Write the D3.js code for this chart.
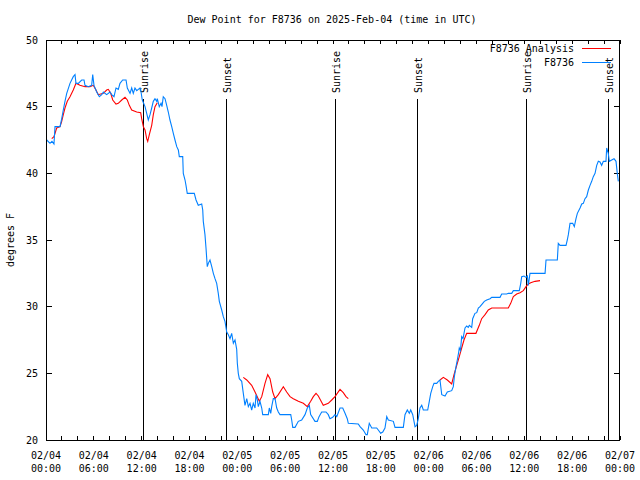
<!DOCTYPE html>
<html>
<head>
<meta charset="utf-8">
<script src="https://cdn.jsdelivr.net/npm/d3@7"></script>
<style>
  body { margin: 0; background: #fff; }
  text { font-family: "DejaVu Sans Mono", monospace; font-size: 10px; fill: #000; }
</style>
</head>
<body>
<svg></svg>
<script>
// hours after 2025-02-04 00:00 UTC
const obsHours = [0.09, 0.50, 0.75, 1.00, 1.13, 1.76, 1.97, 2.17, 2.38, 2.60, 3.01, 3.42, 3.64, 3.76, 4.05, 4.48, 4.77, 4.89, 5.31, 5.73,
  5.86, 6.02, 6.36, 6.69, 6.99, 7.19, 7.61, 8.03, 8.24, 8.53, 8.78, 9.07, 9.28, 9.62, 10.04, 10.20, 10.54, 10.75, 10.95, 11.16,
  11.38, 11.58, 11.79, 11.92, 12.08, 12.42, 12.63, 12.83, 13.05, 13.26, 13.46, 13.67, 13.89, 13.96, 14.21, 14.43, 14.55, 14.71, 14.93, 15.14,
  15.34, 15.55, 15.77, 15.97, 16.18, 16.40, 16.60, 16.72, 17.15, 17.22, 17.44, 17.56, 17.72, 18.60, 18.82, 19.10, 19.53, 19.66, 19.73, 19.94,
  20.07, 20.23, 20.36, 20.57, 20.79, 20.99, 21.20, 21.41, 21.61, 21.74, 22.04, 22.24, 22.45, 22.67, 22.87, 23.08, 23.29, 23.50, 23.71, 23.92,
  24.00, 24.12, 24.25, 24.55, 24.75, 24.96, 25.18, 25.38, 25.59, 25.80, 26.00, 26.22, 26.34, 26.51, 26.63, 26.84, 27.06, 27.18, 27.89, 28.01,
  28.19, 28.31, 28.51, 28.73, 28.94, 29.14, 29.35, 30.70, 30.82, 30.95, 31.24, 31.65, 32.07, 32.49, 32.78, 33.03, 33.20, 33.74, 34.03, 34.25,
  34.58, 35.12, 35.41, 35.62, 35.96, 36.25, 36.47, 36.88, 37.22, 37.51, 37.79, 37.92, 39.17, 39.39, 39.80, 40.14, 40.30, 40.55, 40.86, 41.48,
  41.68, 41.98, 42.24, 42.52, 42.74, 42.94, 43.57, 43.78, 44.82, 45.03, 45.32, 45.57, 45.75, 46.00, 46.29, 46.50, 46.70, 46.91, 47.13, 47.33,
  47.88, 48.08, 48.26, 48.51, 48.67, 49.01, 49.21, 49.42, 49.64, 50.05, 50.34, 50.89, 51.09, 51.22, 51.43, 51.59, 51.77, 51.84, 51.99, 52.14,
  52.31, 52.56, 52.77, 52.97, 53.10, 53.40, 53.52, 53.81, 54.03, 54.23, 54.44, 54.78, 54.98, 55.28, 55.70, 55.91, 56.95, 57.16, 57.79, 57.99,
  58.42, 58.62, 59.37, 59.55, 59.67, 59.96, 60.21, 60.38, 60.50, 60.71, 62.60, 62.72, 64.14, 64.26, 64.48, 65.23, 65.39, 65.52, 65.73, 66.07,
  66.27, 66.48, 66.65, 66.99, 67.20, 67.40, 67.61, 67.82, 68.03, 68.24, 68.45, 68.65, 68.87, 69.08, 69.28, 69.49, 69.70, 69.91, 70.24, 70.33,
  70.53, 70.66, 70.96, 71.25, 71.50, 71.66, 71.79];
const obsDew = [42.5, 42.25, 42.4, 42.2, 43.5, 43.5, 44.1, 44.75, 45.4, 46, 46.75, 47.25, 47.4, 46.75, 46.75, 47, 47, 46.6, 46.5, 46.6,
  47.4, 46.6, 46.1, 45.75, 45.9, 46.1, 45.9, 46.1, 45.9, 45.75, 46.4, 46.3, 46.75, 47, 47, 46.4, 46, 46.4, 46, 46.4,
  46.2, 46.3, 46.4, 46.1, 45.5, 45, 44.5, 44, 44.4, 44.9, 45.4, 45.6, 45.4, 45.6, 45, 45.25, 45, 45.75, 45.6, 45.1,
  44.6, 44, 43.5, 43, 42.5, 42, 41.75, 41.25, 41.25, 40, 39.5, 39.1, 38.5, 38.5, 38, 37.6, 37.7, 37.25, 36.4, 35.4,
  34.4, 33, 33.25, 33.5, 33, 32.5, 32.1, 31.75, 31, 30.4, 29.75, 29.25, 28.9, 28.1, 27.9, 27.6, 28, 27.25, 27.5, 26.8,
  25.75, 25, 24.6, 24.4, 23.5, 22.6, 23.1, 22.5, 22.75, 22.25, 22.75, 22.4, 23.4, 23, 22.5, 22.9, 22.4, 21.9, 21.9, 22.4,
  22, 22.5, 23.1, 23.1, 22.4, 22.1, 21.9, 21.9, 21.5, 20.95, 20.95, 21.4, 21.5, 21.9, 22.4, 22.6, 21.9, 21.4, 21.4, 21.75,
  22.1, 22.1, 21.9, 21.6, 21.7, 21.9, 21.75, 22.4, 22.4, 22, 21.6, 21.25, 21.2, 21, 20.75, 20.4, 20.4, 21.25, 20.9, 20.9,
  20.75, 20.5, 20.6, 20.9, 21.75, 21.5, 21.4, 20.95, 20.95, 21.9, 22.25, 22, 22.25, 21.9, 21, 21.1, 21.6, 22.4, 22.6, 22.25,
  22.25, 22.9, 23.5, 24, 24.25, 24.25, 24.4, 24.5, 23.4, 23.3, 23.6, 23.7, 24, 24.75, 25.5, 26, 26.6, 26.9, 26.7, 27.75,
  27.6, 28.4, 28.55, 28.45, 28.6, 28.45, 29.1, 29.5, 29.55, 29.9, 30, 30.25, 30.4, 30.5, 30.6, 30.7, 30.7, 30.95, 30.95, 31,
  31, 31.2, 31.2, 31.75, 32.25, 32.3, 32.2, 32.3, 31.6, 32.5, 32.5, 33.5, 33.5, 34.75, 34.6, 34.6, 35, 35.4, 36.25, 36.25,
  36, 36.6, 37, 37.4, 37.7, 37.75, 38.1, 38.25, 38.75, 39.1, 39.4, 39.75, 40, 40.6, 40.9, 40.85, 40.6, 40.9, 40.9, 41.9,
  41.5, 40.9, 41, 41.1, 40.9, 40, 39.4];

const anaHours = [0.72, 1.00, 1.34, 1.76, 1.97, 2.17, 2.38, 2.67, 3.01, 3.42, 3.76, 4.26, 4.89, 5.52, 5.93, 6.27, 6.56, 7.19, 7.61, 7.81,
  8.12, 8.37, 8.78, 9.07, 9.50, 9.91, 10.20, 10.45, 10.75, 11.38, 11.88, 12.00, 12.21, 12.42, 12.63, 12.76, 12.96, 13.26, 13.46, 13.67,
  13.96, 14.2,
  24.75, 25.18, 25.80, 26.22, 26.76, 27.06, 27.47, 27.81, 28.10, 28.44, 28.73, 29.14, 29.77, 30.19, 30.61, 31.02, 31.65, 32.28, 32.78, 33.20,
  33.53, 33.87, 34.16, 34.78, 35.41, 35.84, 36.25, 36.88, 37.29, 37.63, 37.92, 38.2,
  49.42, 49.84, 50.34, 50.89, 51.18, 51.52, 51.84, 52.14, 52.43, 52.77, 53.93, 54.35, 54.65, 55.07, 55.48, 55.91, 57.99, 58.29, 58.62, 59.04,
  59.46, 59.87, 60.21, 60.50, 60.80, 61.34, 61.97];
const anaDew = [42.6, 42.75, 43.4, 43.5, 43.9, 44.4, 44.9, 45.4, 45.75, 46.25, 46.75, 46.6, 46.5, 46.5, 46.6, 46.25, 45.9, 46, 46.25, 46.3,
  46, 45.5, 45.2, 45.25, 45.5, 45.7, 45.5, 45.1, 44.75, 44.6, 44.55, 44.1, 43.5, 43.25, 42.6, 42.4, 42.9, 43.6, 44.4, 45,
  45.3, null,
  24.7, 24.5, 24.1, 23.6, 22.9, 23.25, 24.25, 24.9, 24.6, 23.6, 23.1, 23.4, 24, 23.6, 23.25, 23.1, 22.9, 22.75, 22.5, 22.9,
  23.25, 23.5, 23.3, 22.6, 22.75, 23, 23.25, 23.8, 23.55, 23.25, 23.1, null,
  24.5, 24.7, 24.5, 24.2, 24.9, 25.6, 26.25, 26.9, 27.5, 28, 28, 28.6, 29.1, 29.4, 29.75, 29.9, 29.9, 30.25, 30.75, 30.95,
  31.05, 31.2, 31.5, 31.7, 31.8, 31.9, 31.95];

const sunriseHours = [12.20, 36.25, 60.21];
const sunsetHours = [22.54, 46.58, 70.53];
const yTicks = [20, 25, 30, 35, 40, 45, 50];
const seriesNames = ["F8736 Analysis", "F8736"];
const seriesColors = ["#ff0000", "#0080ff"];

const width = 640;
const height = 480;
const marginTop = 40;
const marginBottom = 40;
const marginLeft = 46;
const marginRight = 20;

const t0 = Date.UTC(2025, 1, 4, 0, 0);
const toDate = (h) => new Date(t0 + h * 3600e3);

const svg = d3.select("svg").attr("width", width).attr("height", height);

const x = d3.scaleUtc([toDate(0), toDate(72)], [marginLeft, width - marginRight]);
const y = d3.scaleLinear([20, 50], [height - marginBottom, marginTop]);

// title
svg.append("text")
  .attr("x", 332).attr("y", 23)
  .attr("text-anchor", "middle")
  .text("Dew Point for F8736 on 2025-Feb-04 (time in UTC)");

// y label
svg.append("text")
  .attr("transform", `translate(14,${(marginTop + height - marginBottom) / 2}) rotate(-90)`)
  .attr("text-anchor", "middle")
  .text("degrees F");

// ticks (inward, mirrored)
const minorTicks = d3.range(0, 73, 2).map(toDate);
const majorTicks = d3.range(0, 73, 6).map(toDate);
const tickG = svg.append("g").attr("stroke", "#000").attr("shape-rendering", "crispEdges");
minorTicks.forEach((d) => {
  const len = 4;
  tickG.append("line").attr("x1", x(d)).attr("x2", x(d))
    .attr("y1", height - marginBottom).attr("y2", height - marginBottom - len);
  tickG.append("line").attr("x1", x(d)).attr("x2", x(d))
    .attr("y1", marginTop).attr("y2", marginTop + len);
});
yTicks.forEach((v) => {
  tickG.append("line").attr("x1", marginLeft).attr("x2", marginLeft + 6).attr("y1", y(v)).attr("y2", y(v));
  tickG.append("line").attr("x1", width - marginRight).attr("x2", width - marginRight - 6).attr("y1", y(v)).attr("y2", y(v));
});

// tick labels
svg.append("g").selectAll("text").data(yTicks).join("text")
  .attr("x", marginLeft - 8).attr("y", (d) => y(d)).attr("dy", "0.35em")
  .attr("text-anchor", "end")
  .text((d) => d);

const fmtDay = d3.utcFormat("%m/%d");
const fmtTime = d3.utcFormat("%H:%M");
const xl = svg.append("g").selectAll("g").data(majorTicks).join("g");
xl.append("text").attr("x", (d) => x(d)).attr("y", 459).attr("text-anchor", "middle").text(fmtDay);
xl.append("text").attr("x", (d) => x(d)).attr("y", 472).attr("text-anchor", "middle").text(fmtTime);

// sunrise / sunset markers
const events = sunriseHours.map((h) => ({ h, label: "Sunrise" }))
  .concat(sunsetHours.map((h) => ({ h, label: "Sunset" })));
events.forEach((e) => {
  const ex = Math.round(x(toDate(e.h))) + 0.5;
  svg.append("line")
    .attr("x1", ex).attr("x2", ex)
    .attr("y1", 99).attr("y2", height - marginBottom)
    .attr("stroke", "#000").attr("shape-rendering", "crispEdges");
  svg.append("text")
    .attr("transform", `translate(${ex + 4},93) rotate(-90)`)
    .text(e.label);
});

// data lines
const line = d3.line()
  .defined((d) => d[1] != null)
  .x((d) => x(toDate(d[0])))
  .y((d) => y(d[1]));

svg.append("path")
  .datum(anaHours.map((h, i) => [h, anaDew[i]]))
  .style("fill", "none").style("stroke", seriesColors[0]).style("stroke-width", 1.1)
  .attr("d", line);

svg.append("path")
  .datum(obsHours.map((h, i) => [h, obsDew[i]]))
  .style("fill", "none").style("stroke", seriesColors[1]).style("stroke-width", 1.1)
  .attr("d", line);

// frame
svg.append("rect")
  .attr("x", marginLeft + 0.5).attr("y", marginTop + 0.5)
  .attr("width", width - marginLeft - marginRight - 1)
  .attr("height", height - marginTop - marginBottom)
  .attr("fill", "none").attr("stroke", "#000").attr("shape-rendering", "crispEdges");

// legend
const legendG = svg.append("g");
seriesNames.forEach((name, i) => {
  const ly = 48 + i * 14;
  legendG.append("text").attr("x", 574).attr("y", ly).attr("dy", "0.35em")
    .attr("text-anchor", "end").text(name);
  legendG.append("rect").attr("x", 582).attr("y", ly).attr("width", 29).attr("height", 1)
    .style("fill", seriesColors[i]);
});
</script>
</body>
</html>
